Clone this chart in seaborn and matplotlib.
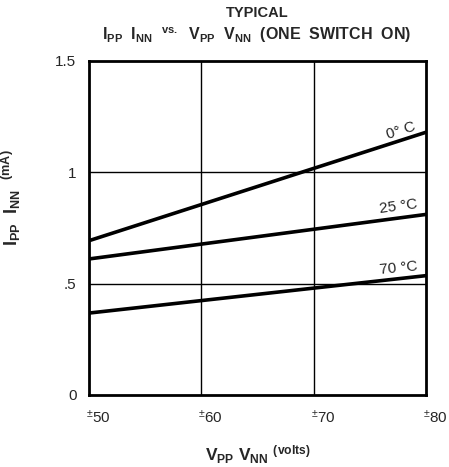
import matplotlib
matplotlib.use("Agg")
import matplotlib.pyplot as plt
import matplotlib.transforms as mtransforms
import seaborn as sns
import pandas as pd

sns.set_theme(style="white")
plt.rcParams['font.family'] = ['Liberation Sans', 'DejaVu Sans']
plt.rcParams['mathtext.default'] = 'regular'

# Data
voltage = [50, 80]
curve_0C = [0.693, 1.18]
curve_25C = [0.611, 0.811]
curve_70C = [0.368, 0.536]
series_labels = ["0° C", "25 °C", "70 °C"]
x_ticks = [50, 60, 70, 80]
x_tick_labels = [r"$^{\pm}$50", r"$^{\pm}$60", r"$^{\pm}$70", r"$^{\pm}$80"]
y_ticks = [0, 0.5, 1, 1.5]
y_tick_labels = ["0", ".5", "1", "1.5"]

rows = []
for lab, vals in zip(series_labels, [curve_0C, curve_25C, curve_70C]):
    for v, c in zip(voltage, vals):
        rows.append({"V": v, "I": c, "T": lab})
df = pd.DataFrame(rows)

fig = plt.figure(figsize=(4.49, 4.67), dpi=100)
ax = fig.add_axes([89/449, 1-395/467, (426-89)/449, (395-61)/467])

sns.lineplot(data=df, x="V", y="I", hue="T", palette=["black"]*3,
             linewidth=2.6, legend=False, ax=ax)

ax.set_xlim(50, 80)
ax.set_ylim(0, 1.5)
ax.set_xticks(x_ticks)
ax.set_yticks(y_ticks)
ax.set_xticklabels(x_tick_labels, ha='left', fontsize=11)
ax.set_yticklabels(y_tick_labels, fontsize=11)
ax.tick_params(axis='both', length=0)
ax.tick_params(axis='x', pad=10)
ax.tick_params(axis='y', pad=9)
offset = mtransforms.ScaledTranslation(-3/100, 0, fig.dpi_scale_trans)
for lbl in ax.get_xticklabels():
    lbl.set_transform(lbl.get_transform() + offset)

for v in [60, 70]:
    ax.axvline(v, color='black', lw=1.0, zorder=1)
for v in [0.5, 1.0]:
    ax.axhline(v, color='black', lw=1.0, zorder=1)

for s in ax.spines.values():
    s.set_color('black')
    s.set_linewidth(2.0)

# Curve labels
label_pos = [(78.0, 1.14, 17.5), (77.6, 0.80, 7.5), (77.6, 0.525, 5.7)]
for lab, (x, y, r) in zip(series_labels, label_pos):
    ax.text(x, y + 0.015, lab, fontsize=11, ha='center', va='bottom',
            rotation=r, rotation_mode='anchor')

ax.set_xlabel(r"V$_{PP}$ V$_{NN}$ $^{(volts)}$", fontsize=12.5, fontweight='bold')
ax.xaxis.set_label_coords(0.5, -0.145)
ax.set_ylabel(r"I$_{PP}$  I$_{NN}$  $^{(mA)}$", fontsize=13, fontweight='bold')
ax.yaxis.set_label_coords(-0.195, 0.59)

fig.text(257/449, 1-13/467, "TYPICAL", ha='center', va='center',
         fontsize=10.5, fontweight='bold')
fig.text(257/449, 1-35/467, r"I$_{PP}$  I$_{NN}$  $^{vs.}$  V$_{PP}$  V$_{NN}$  (ONE  SWITCH  ON)",
         ha='center', va='center', fontsize=11.5, fontweight='bold')

fig.savefig("out.png", dpi=100)
